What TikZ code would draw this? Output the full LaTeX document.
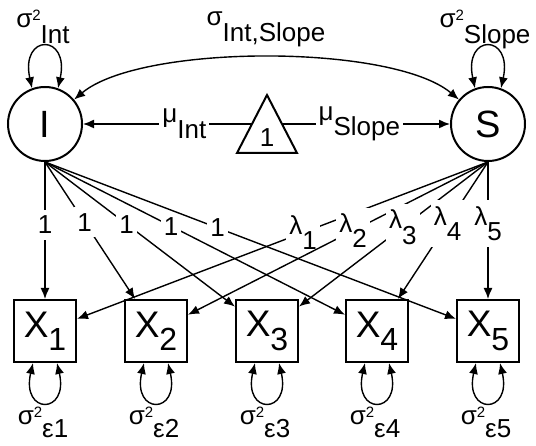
\documentclass[tikz,border=0pt]{standalone}
\usepackage{fontspec}
\setmainfont{Liberation Sans}
\usepackage{tikz}
\usetikzlibrary{positioning, arrows.meta}

\newcommand{\lo}[1]{\raisebox{-.6em}{#1}}
\newcommand{\sq}{\raisebox{.3em}{\fontsize{15}{15}\selectfont 2}}
\newcommand{\xsub}[1]{X\raisebox{-.36em}{\fontsize{32}{34}\selectfont #1}}

\tikzset{
  latent/.style={circle, draw, line width=2pt, minimum size=74pt, inner sep=0pt, font=\fontsize{38}{44}\selectfont},
  manifest/.style={rectangle, draw, line width=2pt, minimum size=62pt, inner sep=0pt, font=\fontsize{37}{44}\selectfont},
  lab/.style={fill=white, inner xsep=3pt, inner ysep=6pt, font=\fontsize{26}{30}\selectfont},
  txt/.style={inner sep=0pt, anchor=base, font=\fontsize{26}{30}\selectfont},
}

\begin{document}
\begin{tikzpicture}[x=1pt, y=1pt, >={Latex[length=11pt,width=9pt]}, line width=1.4pt]
    \useasboundingbox (0,0) rectangle (536,446);

    % Growth factors
    \node[latent] (I) at (45,322) {I};
    \node[latent] (S) at (488,322) {S};

    % Constant
    \draw[line width=2pt] (237,293) -- (267,351) -- (297,293) -- cycle;
    \node[inner sep=0pt, font=\fontsize{26}{30}\selectfont] (one) at (267,308) {1};
    \coordinate (tl) at (252,322);
    \coordinate (tr) at (282,322);

    % Observed
    \node[manifest] (X1) at (45,115) {\xsub{1}};
    \node[manifest] (X2) at (156,115) {\xsub{2}};
    \node[manifest] (X3) at (267,115) {\xsub{3}};
    \node[manifest] (X4) at (377,115) {\xsub{4}};
    \node[manifest] (X5) at (488,115) {\xsub{5}};

    % Means
    \draw[->] (tl) -- node[lab, pos=.4] {μ\lo{Int}} (I);
    \draw[->] (tr) -- node[lab, pos=.46] {μ\lo{Slope}} (S);

    % Variances and covariance
    \draw[<->] (I.110) .. controls +(-12,55) and +(12,55) .. (I.70);
    \draw[<->] (S.110) .. controls +(-12,55) and +(12,55) .. (S.70);
    \draw[<->] (I) to[out=40, in=140, looseness=.58] (S);
    \node[txt] (vI) at (43,418) {σ\sq\lo{Int}};
    \node[txt] (cIS) at (266,420) {σ\lo{Int,Slope}};
    \node[txt] (vS) at (485,418) {σ\sq\lo{Slope}};

    % Slope loadings
    \draw[->] (S.south) -- node[lab, pos=.45] {λ\lo{1}} (X1);
    \draw[->] (S.south) -- node[lab, pos=.45] {λ\lo{2}} (X2);
    \draw[->] (S.south) -- node[lab, pos=.45] {λ\lo{3}} (X3);
    \draw[->] (S.south) -- node[lab, pos=.45] {λ\lo{4}} (X4);
    \draw[->] (S.south) -- node[lab, pos=.45] {λ\lo{5}} (X5);

    % Intercept loadings
    \draw[->] (I.south) -- node[lab, pos=.46] {1} (X1);
    \draw[->] (I.south) -- node[lab, pos=.44] {1} (X2);
    \draw[->] (I.south) -- node[lab, pos=.43] {1} (X3);
    \draw[->] (I.south) -- node[lab, pos=.42] {1} (X4);
    \draw[->] (I.south) -- node[lab, pos=.42] {1} (X5);

    % Residual variances
    \draw[<->] ([xshift=-12pt]X1.south) .. controls +(-12,-52) and +(12,-52) .. ([xshift=12pt]X1.south);
    \draw[<->] ([xshift=-12pt]X2.south) .. controls +(-12,-52) and +(12,-52) .. ([xshift=12pt]X2.south);
    \draw[<->] ([xshift=-12pt]X3.south) .. controls +(-12,-52) and +(12,-52) .. ([xshift=12pt]X3.south);
    \draw[<->] ([xshift=-12pt]X4.south) .. controls +(-12,-52) and +(12,-52) .. ([xshift=12pt]X4.south);
    \draw[<->] ([xshift=-12pt]X5.south) .. controls +(-12,-52) and +(12,-52) .. ([xshift=12pt]X5.south);
    \node[txt] (e1) at (43,21) {σ\sq\raisebox{-.5em}{ε1}};
    \node[txt] (e2) at (154,21) {σ\sq\raisebox{-.5em}{ε2}};
    \node[txt] (e3) at (265,21) {σ\sq\raisebox{-.5em}{ε3}};
    \node[txt] (e4) at (375,21) {σ\sq\raisebox{-.5em}{ε4}};
    \node[txt] (e5) at (486,21) {σ\sq\raisebox{-.5em}{ε5}};

\end{tikzpicture}
\end{document}
